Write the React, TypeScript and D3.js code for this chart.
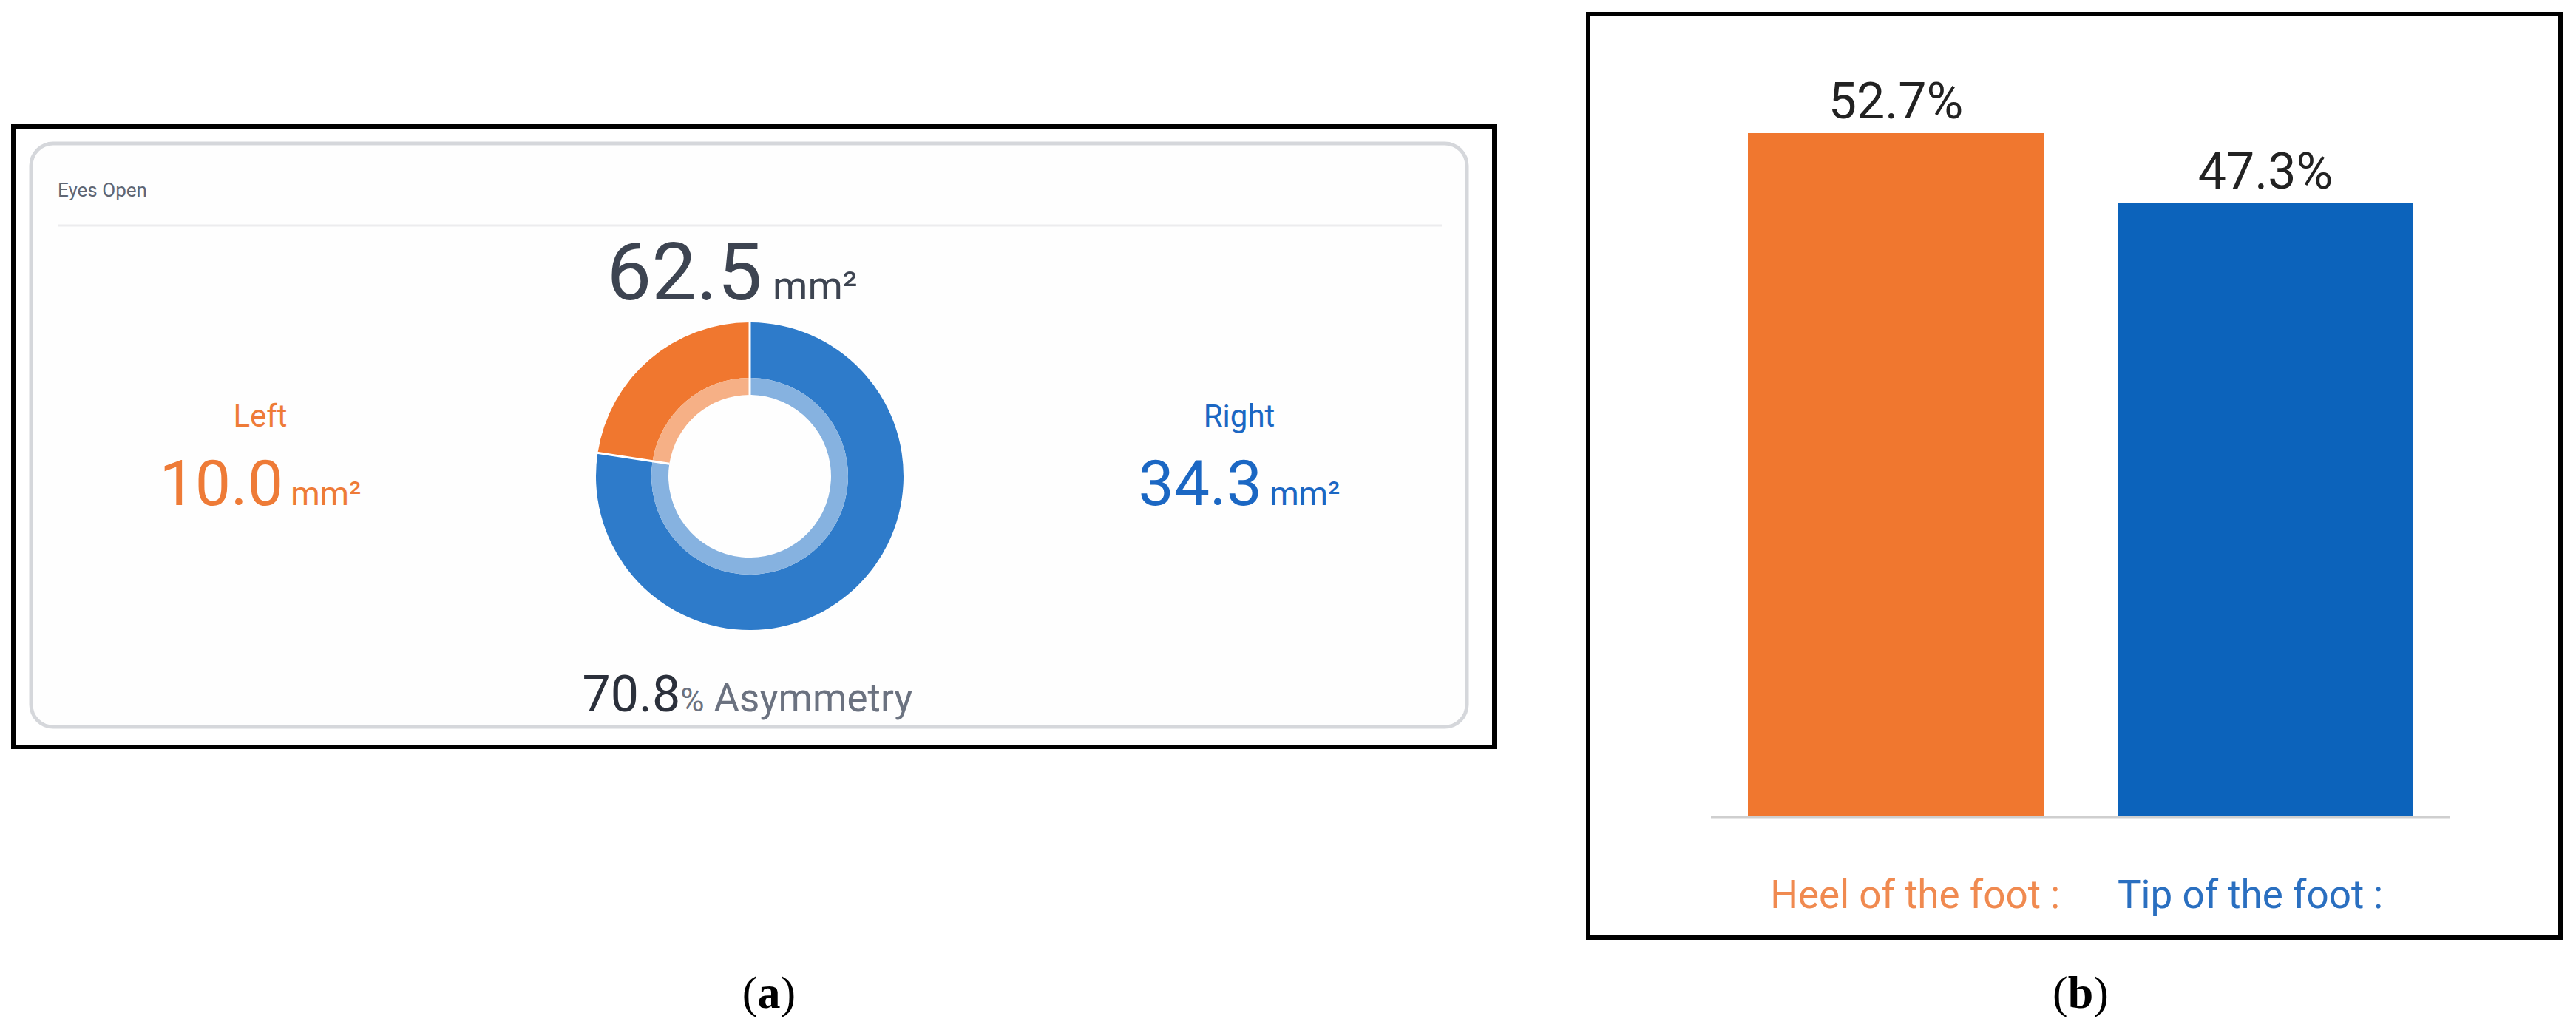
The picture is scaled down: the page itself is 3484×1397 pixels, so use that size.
import React, { useEffect, useRef } from 'react';
import * as d3 from 'd3';

// panel (a): sway area, eyes open
const sides = ['Right', 'Left'];
const sideValues = [34.3, 10.0];
const totalArea = 62.5;
const asymmetry = 70.8;
const cardTitle = 'Eyes Open';

// panel (b): load distribution
const footParts = ['Heel of the foot :', 'Tip of the foot :'];
const footShares = [52.7, 47.3];

const captions = ['a', 'b'];

const ORANGE = '#f0772f';
const BLUE_DONUT = '#2e7bca';
const BLUE_BAR = '#0c63bb';
const FONT = 'Roboto, "Noto Sans", sans-serif';

const App = () => {
    const ref = useRef<SVGSVGElement>(null);

    useEffect(() => {
        const svg = d3.select(ref.current);
        svg.selectAll('*').remove();

        svg.append('rect')
            .attr('width', 3484).attr('height', 1397)
            .attr('fill', '#fff');

        // ---------- panel (a) ----------
        const a = svg.append('g');

        a.append('rect')
            .attr('x', 18).attr('y', 171)
            .attr('width', 2003).attr('height', 839)
            .attr('fill', '#fff')
            .attr('stroke', '#000').attr('stroke-width', 6);

        a.append('rect')
            .attr('x', 42).attr('y', 194)
            .attr('width', 1942).attr('height', 789)
            .attr('rx', 30)
            .attr('fill', '#fefefe')
            .attr('stroke', '#d5d7db').attr('stroke-width', 5);

        a.append('text')
            .attr('x', 78).attr('y', 266)
            .attr('font-family', FONT).attr('font-size', 26)
            .attr('fill', '#5f6673')
            .text(cardTitle);

        a.append('line')
            .attr('x1', 78).attr('x2', 1950)
            .attr('y1', 305).attr('y2', 305)
            .attr('stroke', '#ececee').attr('stroke-width', 3);

        const cx = 1014, cy = 644;

        // total on top (sits a little left of the donut centre)
        const total = a.append('text')
            .attr('x', 990).attr('y', 405)
            .attr('text-anchor', 'middle')
            .attr('font-family', FONT)
            .attr('fill', '#3d4451');
        total.append('tspan').attr('font-size', 108).text(totalArea.toFixed(1));
        total.append('tspan').attr('font-size', 54).attr('dx', 14).text('mm²');

        // donut
        const pie = d3.pie<number>().sort(null).startAngle(0).endAngle(2 * Math.PI);
        const arcs = pie(sideValues);
        const sideColor = d3.scaleOrdinal<string, string>().domain(sides).range([BLUE_DONUT, ORANGE]);
        const outerArc = d3.arc<d3.PieArcDatum<number>>().innerRadius(133).outerRadius(208);
        const innerArc = d3.arc<d3.PieArcDatum<number>>().innerRadius(110).outerRadius(133);

        const donut = a.append('g').attr('transform', `translate(${cx},${cy})`);
        donut.selectAll('path.outer')
            .data(arcs)
            .enter().append('path')
            .attr('class', 'outer')
            .attr('d', outerArc)
            .attr('fill', (d, i) => sideColor(sides[i]));
        donut.selectAll('path.inner')
            .data(arcs)
            .enter().append('path')
            .attr('class', 'inner')
            .attr('d', innerArc)
            .attr('fill', (d, i) => d3.interpolateRgb(sideColor(sides[i]), '#fff')(0.42));
        // thin white seams between slices
        donut.selectAll('line.seam')
            .data(arcs)
            .enter().append('line')
            .attr('class', 'seam')
            .attr('x1', d => 110 * Math.sin(d.startAngle))
            .attr('y1', d => -110 * Math.cos(d.startAngle))
            .attr('x2', d => 209 * Math.sin(d.startAngle))
            .attr('y2', d => -209 * Math.cos(d.startAngle))
            .attr('stroke', '#fff').attr('stroke-width', 3);

        // side readouts
        const sideX = d3.scaleOrdinal<string, number>().domain(sides).range([1676, 352]);
        const sideText = d3.scaleOrdinal<string, string>().domain(sides).range(['#1b67c3', '#ee7b37']);
        sides.forEach((s, i) => {
            a.append('text')
                .attr('x', sideX(s)).attr('y', 577)
                .attr('text-anchor', 'middle')
                .attr('font-family', FONT).attr('font-size', 42)
                .attr('fill', sideText(s))
                .text(s);
            const v = a.append('text')
                .attr('x', sideX(s)).attr('y', 683)
                .attr('text-anchor', 'middle')
                .attr('font-family', FONT)
                .attr('fill', sideText(s));
            v.append('tspan').attr('font-size', 86).text(sideValues[i].toFixed(1));
            v.append('tspan').attr('font-size', 45).attr('dx', 10).text('mm²');
        });

        // asymmetry below
        const asym = a.append('text')
            .attr('x', cx - 3).attr('y', 962)
            .attr('text-anchor', 'middle')
            .attr('font-family', FONT);
        asym.append('tspan').attr('font-size', 68).attr('fill', '#2b303b').text(asymmetry.toFixed(1));
        asym.append('tspan').attr('font-size', 44).attr('fill', '#6b7280').text('%');
        asym.append('tspan').attr('font-size', 53).attr('fill', '#6b7280').text(' Asymmetry');

        // ---------- panel (b) ----------
        const b = svg.append('g');

        b.append('rect')
            .attr('x', 2148).attr('y', 19)
            .attr('width', 1315).attr('height', 1249)
            .attr('fill', '#fff')
            .attr('stroke', '#000').attr('stroke-width', 6);

        const x = d3.scaleBand<string>()
            .domain(footParts)
            .range([2314, 3314])
            .paddingInner(0.2)
            .paddingOuter(0.1);

        const y = d3.scaleLinear()
            .domain([0, d3.max(footShares) as number])
            .range([1104, 180]);

        const barColor = d3.scaleOrdinal<string, string>().domain(footParts).range([ORANGE, BLUE_BAR]);
        const labelColor = d3.scaleOrdinal<string, string>().domain(footParts).range(['#f08a50', '#2a6fc0']);

        b.selectAll('rect.bar')
            .data(footParts)
            .enter().append('rect')
            .attr('class', 'bar')
            .attr('x', d => x(d) as number)
            .attr('y', (d, i) => y(footShares[i]))
            .attr('width', x.bandwidth())
            .attr('height', (d, i) => y(0) - y(footShares[i]))
            .attr('fill', d => barColor(d));

        b.selectAll('text.value')
            .data(footParts)
            .enter().append('text')
            .attr('class', 'value')
            .attr('x', d => (x(d) as number) + x.bandwidth() / 2)
            .attr('y', (d, i) => y(footShares[i]) - 20)
            .attr('text-anchor', 'middle')
            .attr('font-family', FONT).attr('font-size', 68)
            .attr('fill', '#222')
            .text((d, i) => `${footShares[i].toFixed(1)}%`);

        b.append('line')
            .attr('x1', x.range()[0]).attr('x2', x.range()[1])
            .attr('y1', y(0) + 1).attr('y2', y(0) + 1)
            .attr('stroke', '#cfcfcf').attr('stroke-width', 3);

        // category labels sit as a row under the axis
        const mid = (x.range()[0] + x.range()[1]) / 2;
        b.selectAll('text.cat')
            .data(footParts)
            .enter().append('text')
            .attr('class', 'cat')
            .attr('x', (d, i) => (i === 0 ? mid - 28 : mid + 50))
            .attr('y', 1228)
            .attr('text-anchor', (d, i) => (i === 0 ? 'end' : 'start'))
            .attr('font-family', FONT).attr('font-size', 53)
            .attr('fill', d => labelColor(d))
            .text(d => d);

        // ---------- captions ----------
        const capX = d3.scaleOrdinal<string, number>().domain(captions).range([1040, 2814]);
        captions.forEach(c => {
            const t = svg.append('text')
                .attr('x', capX(c)).attr('y', 1363)
                .attr('text-anchor', 'middle')
                .attr('font-family', '"Liberation Serif", serif')
                .attr('font-size', 62)
                .attr('fill', '#000');
            t.append('tspan').text('(');
            t.append('tspan').attr('font-weight', 'bold').text(c);
            t.append('tspan').text(')');
        });
    }, []);

    return (
        <svg
            ref={ref}
            width={3484}
            height={1397}
            style={{ position: 'absolute', left: 0, top: 0, display: 'block' }}
        />
    );
};

export default App;
